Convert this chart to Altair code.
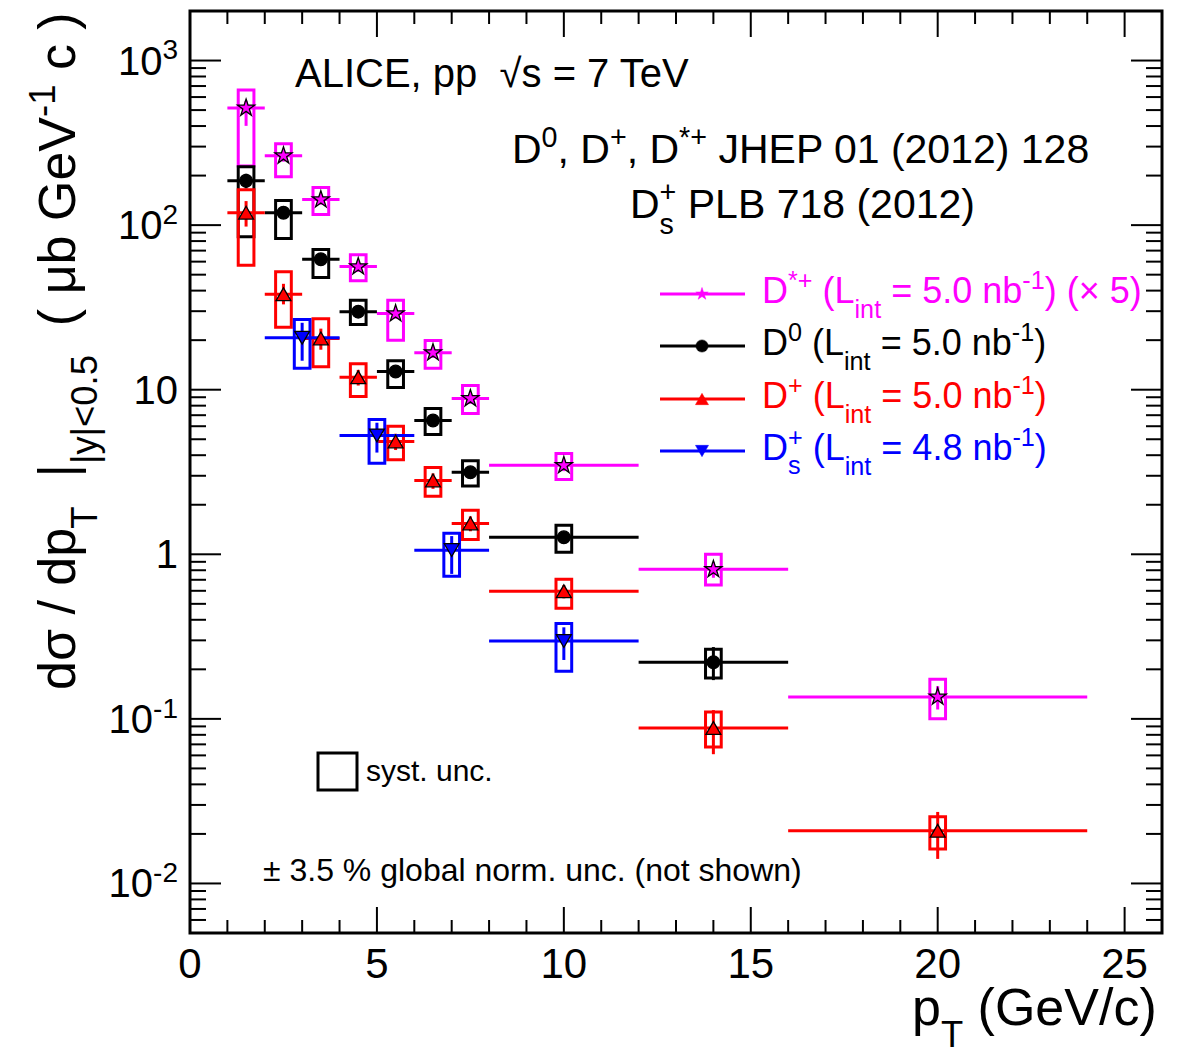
import altair as alt
import pandas as pd

# ---------------- data ----------------
# D*+ (x 5)
dstar_pt = [1.5, 2.5, 3.5, 4.5, 5.5, 6.5, 7.5, 10, 14, 20]
dstar_lo = [1, 2, 3, 4, 5, 6, 7, 8, 12, 16]
dstar_hi = [2, 3, 4, 5, 6, 7, 8, 12, 16, 24]
dstar_val = [515, 264, 143, 56, 29, 16.8, 8.85, 3.47, 0.81, 0.136]
dstar_syst_up = [663, 312, 169, 66, 35, 19.9, 10.6, 4.1, 1.0, 0.174]
dstar_syst_dn = [229, 197, 116, 46, 20, 13.5, 7.16, 2.85, 0.65, 0.10]
dstar_stat_up = [569, 285, 153, 60, 31, 18.0, 9.5, 3.75, 0.90, 0.158]
dstar_stat_dn = [401, 243, 133, 52, 27, 15.6, 8.2, 3.2, 0.72, 0.114]

# D0
d0_pt = [1.5, 2.5, 3.5, 4.5, 5.5, 6.5, 7.5, 10, 14]
d0_lo = [1, 2, 3, 4, 5, 6, 7, 8, 12]
d0_hi = [2, 3, 4, 5, 6, 7, 8, 12, 16]
d0_val = [186, 119, 62, 29.8, 12.9, 6.5, 3.15, 1.27, 0.221]
d0_syst_up = [226, 141, 71, 35, 15.0, 7.7, 3.7, 1.5, 0.265]
d0_syst_dn = [85, 83, 48, 24.9, 10.3, 5.35, 2.6, 1.03, 0.177]
d0_stat_up = [205, 128, 67, 32, 13.9, 7.0, 3.4, 1.36, 0.273]
d0_stat_dn = [167, 110, 57, 27.6, 11.9, 6.0, 2.9, 1.18, 0.172]

# D+
dplus_pt = [1.5, 2.5, 3.5, 4.5, 5.5, 6.5, 7.5, 10, 14, 20]
dplus_lo = [1, 2, 3, 4, 5, 6, 7, 8, 12, 16]
dplus_hi = [2, 3, 4, 5, 6, 7, 8, 12, 16, 24]
dplus_val = [119, 38, 20.5, 11.9, 4.85, 2.81, 1.54, 0.596, 0.088, 0.0209]
dplus_syst_up = [164, 52, 27, 14.4, 6.0, 3.37, 1.85, 0.705, 0.11, 0.0254]
dplus_syst_dn = [57, 24, 13.8, 9.1, 3.76, 2.25, 1.23, 0.47, 0.0675, 0.0162]
dplus_stat_up = [140, 44, 23.5, 13.2, 5.4, 3.1, 1.7, 0.65, 0.113, 0.0272]
dplus_stat_dn = [98, 33, 17.5, 10.6, 4.3, 2.5, 1.38, 0.54, 0.061, 0.0141]

# Ds+
ds_pt = [3, 5, 7, 10]
ds_lo = [2, 4, 6, 8]
ds_hi = [4, 6, 8, 12]
ds_val = [20.7, 5.27, 1.06, 0.297]
ds_syst_up = [26.7, 6.6, 1.34, 0.38]
ds_syst_dn = [13.5, 3.57, 0.735, 0.195]
ds_stat_up = [25.5, 6.3, 1.29, 0.36]
ds_stat_dn = [15.0, 4.15, 0.76, 0.228]

# axis ticks / labels
x_major = [0, 5, 10, 15, 20, 25]
x_minor = [v for v in range(1, 26) if v % 5 != 0]
y_major = [1e-2, 1e-1, 1, 10, 100, 1000]
y_minor = [k * 10.0 ** n for n in range(-3, 4) for k in range(2, 10)
           if 0.0051 < k * 10.0 ** n < 1990]
x_label_text = ["0", "5", "10", "15", "20", "25"]
y_label_base = ["10", "10", "10", "1", "10", "10"]
y_label_exp = ["3", "2", "", "", "-1", "-2"]
y_label_vals = [1000, 100, 10, 1, 0.1, 0.01]

# ---------------- layout ----------------
W, H = 972, 922
FONT = "Liberation Sans"
XS = alt.Scale(domain=[0, 26], nice=False, zero=False)
YS = alt.Scale(type="log", domain=[0.005, 2000], nice=False)

WID = {' ': 278, '(': 333, ')': 333, '*': 389, '+': 584, ',': 278, '-': 333, '.': 278,
       '/': 278, '<': 584, '=': 584, '|': 260, '×': 584, '±': 584, '%': 889,
       'σ': 600, 'μ': 577, '√': 549,
       'A': 667, 'B': 667, 'C': 722, 'D': 722, 'E': 667, 'G': 778, 'H': 722, 'I': 278,
       'J': 500, 'L': 556, 'P': 667, 'T': 611, 'V': 667,
       'a': 556, 'b': 556, 'c': 500, 'd': 556, 'e': 556, 'g': 556, 'h': 556, 'i': 222,
       'l': 222, 'm': 833, 'n': 556, 'o': 556, 'p': 556, 'r': 333, 's': 500, 't': 278,
       'u': 556, 'w': 722, 'y': 500}


def tw(s, size):
    return sum(WID.get(ch, 556) for ch in s) * size / 1000.0


texts = []  # (text, x, y, size, color, angle)


def rich(segs, x0, y0, size, color, angle=0):
    pos = 0.0

    def put(t, p, off, s):
        lead = len(t) - len(t.lstrip(' '))
        p = p + lead * 0.278 * s
        t = t.strip()
        if not t:
            return
        if angle == 0:
            texts.append((t, x0 + p, y0 + off, s, color, 0))
        else:
            texts.append((t, x0 + off, y0 - p, s, color, angle))

    for seg in segs:
        kind = seg[0]
        if kind == 'ss':
            s = size * 0.7
            put(seg[1], pos, -0.38 * size, s)
            put(seg[2], pos, 0.40 * size, s)
            pos += max(tw(seg[1], s), tw(seg[2], s))
        else:
            t = seg[1]
            s = size if kind == 'n' else size * 0.7
            off = 0 if kind == 'n' else (-0.38 * size if kind == 'sup' else 0.42 * size)
            put(t, pos, off, s)
            pos += tw(t, s)


# titles
rich([('n', 'dσ / dp'), ('sub', 'T'), ('n', '  |'), ('sub', '|y|<0.5'),
      ('n', '  ( μb GeV'), ('sup', '-1'), ('n', ' c )')], -115, 679, 52, 'black', 270)
rich([('n', 'p'), ('sub', 'T'), ('n', ' (GeV/c)')], 722, 1014, 52, 'black')

# annotations
rich([('n', 'ALICE, pp'), ('n', '  √s = 7 TeV')], 105, 76, 40, 'black')
rich([('n', 'D'), ('sup', '0'), ('n', ', D'), ('sup', '+'), ('n', ', D'), ('sup', '*+'),
      ('n', ' JHEP 01 (2012) 128')], 322, 152, 41, 'black')
rich([('n', 'D'), ('ss', '+', 's'), ('n', ' PLB 718 (2012)')], 440, 207, 41, 'black')
rich([('n', 'syst. unc.')], 176, 770, 30, 'black')
rich([('n', '± 3.5 % global norm. unc. (not shown)')], 73, 870, 32, 'black')

# legend
MAG, BLK, RED, BLU = '#ff00ff', '#000000', '#ff0000', '#0000ff'
STAR = ("M0,-1L0.2245,-0.309L0.951,-0.309L0.363,0.118L0.588,0.809L0,0.382"
        "L-0.588,0.809L-0.363,0.118L-0.951,-0.309L-0.2245,-0.309Z")
leg_rows = [
    ([('n', 'D'), ('sup', '*+'), ('n', ' (L'), ('sub', 'int'), ('n', ' = 5.0 nb'), ('sup', '-1'),
      ('n', ') (× 5)')], MAG, STAR, 170, 283),
    ([('n', 'D'), ('sup', '0'), ('n', ' (L'), ('sub', 'int'), ('n', ' = 5.0 nb'), ('sup', '-1'),
      ('n', ')')], BLK, 'circle', 150, 335),
    ([('n', 'D'), ('sup', '+'), ('n', ' (L'), ('sub', 'int'), ('n', ' = 5.0 nb'), ('sup', '-1'),
      ('n', ')')], RED, 'triangle-up', 170, 388),
    ([('n', 'D'), ('ss', '+', 's'), ('n', ' (L'), ('sub', 'int'), ('n', ' = 4.8 nb'), ('sup', '-1'),
      ('n', ')')], BLU, 'triangle-down', 170, 440),
]
for segs, col, shp, sz, ly in leg_rows:
    rich(segs, 572, ly + 9, 36, col)

one = pd.DataFrame({'k': [0]})
layers = []


# frame ticks (inward)
def xticks(vals, length):
    df = pd.DataFrame({'v': vals})
    out = []
    for y0, y1 in ((H, H - length), (0, length)):
        out.append(alt.Chart(df).mark_rule(color='black', strokeWidth=2).encode(
            x=alt.X('v:Q', scale=XS, axis=None), y=alt.value(y0), y2=alt.value(y1)))
    return out


def yticks(vals, length):
    df = pd.DataFrame({'v': vals})
    out = []
    for x0, x1 in ((0, length), (W, W - length)):
        out.append(alt.Chart(df).mark_rule(color='black', strokeWidth=2).encode(
            y=alt.Y('v:Q', scale=YS, axis=None), x=alt.value(x0), x2=alt.value(x1)))
    return out


layers += xticks(x_major, 26) + xticks(x_minor, 13) + yticks(y_major, 31) + yticks(y_minor, 16)

# x tick labels
layers.append(alt.Chart(pd.DataFrame({'v': x_major, 't': x_label_text})).mark_text(
    align='center', baseline='alphabetic', font=FONT, fontSize=42).encode(
    x=alt.X('v:Q', scale=XS, axis=None), y=alt.value(H + 45), text='t:N'))

# y tick labels (10^n)
FY, FE, XR = 40, 28, -12
for v, b, e in zip(y_label_vals, y_label_base, y_label_exp):
    df = pd.DataFrame({'v': [v], 'b': [b], 'e': [e]})
    ew = tw(e, FE)
    layers.append(alt.Chart(df).mark_text(align='right', baseline='alphabetic', font=FONT,
                                          fontSize=FY, dy=14).encode(
        y=alt.Y('v:Q', scale=YS, axis=None), x=alt.value(XR - ew), text='b:N'))
    if e:
        layers.append(alt.Chart(df).mark_text(align='right', baseline='alphabetic', font=FONT,
                                              fontSize=FE, dy=14 - 0.38 * FY).encode(
            y=alt.Y('v:Q', scale=YS, axis=None), x=alt.value(XR), text='e:N'))


def frame(pt, lo, hi, val, sup, sdn, stup, stdn):
    return pd.DataFrame({'pt': pt, 'lo': lo, 'hi': hi, 'val': val, 'sup': sup, 'sdn': sdn,
                         'stup': stup, 'stdn': stdn})


series = [
    (frame(dstar_pt, dstar_lo, dstar_hi, dstar_val, dstar_syst_up, dstar_syst_dn,
           dstar_stat_up, dstar_stat_dn), MAG, STAR, MAG, 320),
    (frame(d0_pt, d0_lo, d0_hi, d0_val, d0_syst_up, d0_syst_dn, d0_stat_up, d0_stat_dn),
     BLK, 'circle', BLK, 160),
    (frame(dplus_pt, dplus_lo, dplus_hi, dplus_val, dplus_syst_up, dplus_syst_dn,
           dplus_stat_up, dplus_stat_dn), RED, 'triangle-up', RED, 220),
    (frame(ds_pt, ds_lo, ds_hi, ds_val, ds_syst_up, ds_syst_dn, ds_stat_up, ds_stat_dn),
     BLU, 'triangle-down', BLU, 220),
]

for df, col, shp, fillc, sz in series:
    base = alt.Chart(df)
    layers.append(base.transform_calculate(b1='datum.pt - 0.21', b2='datum.pt + 0.21').mark_rect(
        fillOpacity=0, stroke=col, strokeWidth=3).encode(
        x=alt.X('b1:Q', scale=XS, axis=None), x2='b2:Q',
        y=alt.Y('sdn:Q', scale=YS, axis=None), y2='sup:Q'))
    layers.append(base.mark_rule(color=col, strokeWidth=3).encode(
        x=alt.X('lo:Q', scale=XS, axis=None), x2='hi:Q', y=alt.Y('val:Q', scale=YS, axis=None)))
    layers.append(base.mark_rule(color=col, strokeWidth=3).encode(
        x=alt.X('pt:Q', scale=XS, axis=None), y=alt.Y('stdn:Q', scale=YS, axis=None), y2='stup:Q'))

for df, col, shp, fillc, sz in series:
    layers.append(alt.Chart(df).mark_point(shape=shp, filled=True, fill=fillc, stroke='black',
                                           strokeWidth=1.3, size=sz, opacity=1).encode(
        x=alt.X('pt:Q', scale=XS, axis=None), y=alt.Y('val:Q', scale=YS, axis=None)))

# legend lines and markers
for segs, col, shp, sz, ly in leg_rows:
    layers.append(alt.Chart(one).mark_rule(color=col, strokeWidth=3).encode(
        x=alt.value(470), x2=alt.value(555), y=alt.value(ly)))
    layers.append(alt.Chart(one).mark_point(shape=shp, filled=True, fill=col, stroke=col,
                                            strokeWidth=0.5, size=sz, opacity=1).encode(
        x=alt.value(512), y=alt.value(ly)))

# syst. unc. box
layers.append(alt.Chart(one).mark_rect(fillOpacity=0, stroke='black', strokeWidth=3).encode(
    x=alt.value(128), x2=alt.value(167), y=alt.value(742), y2=alt.value(779)))

# all text pieces
for t, x, y, s, c, a in texts:
    layers.append(alt.Chart(pd.DataFrame({'t': [t]})).mark_text(
        align='left', baseline='alphabetic', font=FONT, fontSize=s, color=c, angle=a).encode(
        x=alt.value(x), y=alt.value(y), text='t:N'))

chart = alt.layer(*layers).properties(
    width=W, height=H,
    autosize=alt.AutoSizeParams(type='none'),
    padding={'left': 190, 'top': 11, 'right': 28, 'bottom': 119},
    background='white',
).configure_view(stroke='black', strokeWidth=3)

chart.save("out.html", embed_options={"renderer": "svg", "actions": False})
